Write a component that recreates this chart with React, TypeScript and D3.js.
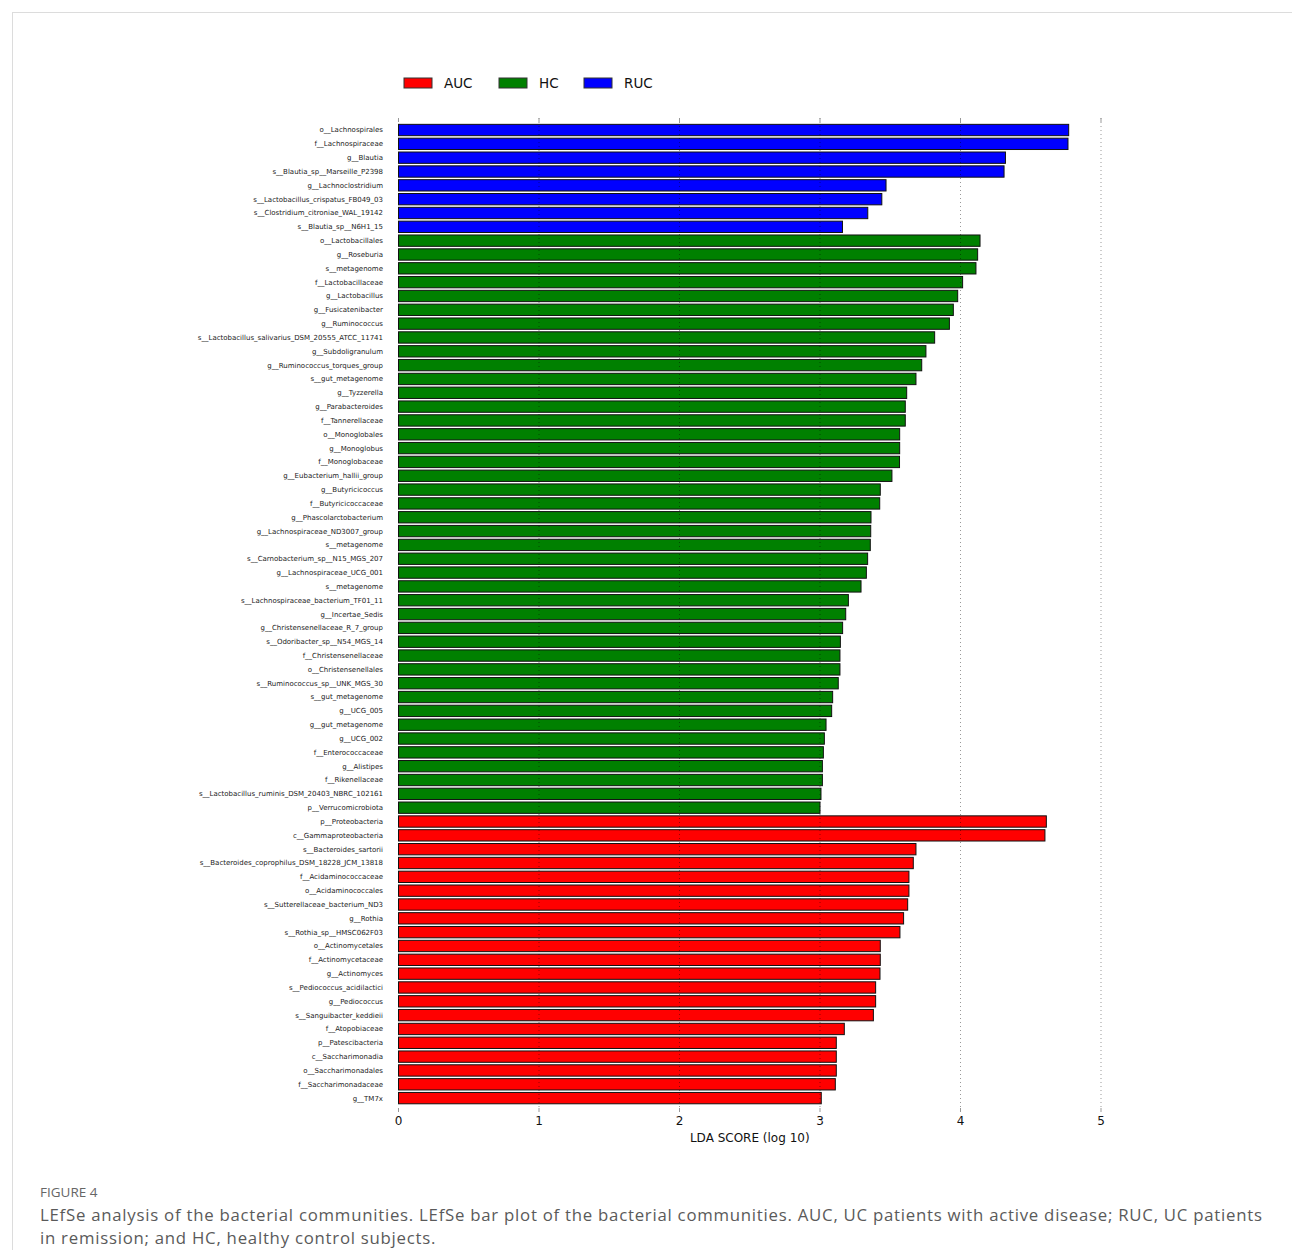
import React, { useEffect, useRef } from "react";
import * as d3 from "d3";

const rucLabels = [
  "o__Lachnospirales",
  "f__Lachnospiraceae",
  "g__Blautia",
  "s__Blautia_sp__Marseille_P2398",
  "g__Lachnoclostridium",
  "s__Lactobacillus_crispatus_FB049_03",
  "s__Clostridium_citroniae_WAL_19142",
  "s__Blautia_sp__N6H1_15",
];
const rucValues = [4.77, 4.765, 4.32, 4.31, 3.47, 3.44, 3.34, 3.16];

const hcLabels = [
  "o__Lactobacillales",
  "g__Roseburia",
  "s__metagenome",
  "f__Lactobacillaceae",
  "g__Lactobacillus",
  "g__Fusicatenibacter",
  "g__Ruminococcus",
  "s__Lactobacillus_salivarius_DSM_20555_ATCC_11741",
  "g__Subdoligranulum",
  "g__Ruminococcus_torques_group",
  "s__gut_metagenome",
  "g__Tyzzerella",
  "g__Parabacteroides",
  "f__Tannerellaceae",
  "o__Monoglobales",
  "g__Monoglobus",
  "f__Monoglobaceae",
  "g__Eubacterium_hallii_group",
  "g__Butyricicoccus",
  "f__Butyricicoccaceae",
  "g__Phascolarctobacterium",
  "g__Lachnospiraceae_ND3007_group",
  "s__metagenome",
  "s__Carnobacterium_sp__N15_MGS_207",
  "g__Lachnospiraceae_UCG_001",
  "s__metagenome",
  "s__Lachnospiraceae_bacterium_TF01_11",
  "g__Incertae_Sedis",
  "g__Christensenellaceae_R_7_group",
  "s__Odoribacter_sp__N54_MGS_14",
  "f__Christensenellaceae",
  "o__Christensenellales",
  "s__Ruminococcus_sp__UNK_MGS_30",
  "s__gut_metagenome",
  "g__UCG_005",
  "g__gut_metagenome",
  "g__UCG_002",
  "f__Enterococcaceae",
  "g__Alistipes",
  "f__Rikenellaceae",
  "s__Lactobacillus_ruminis_DSM_20403_NBRC_102161",
  "p__Verrucomicrobiota",
];
const hcValues = [
  4.139, 4.122, 4.11, 4.015, 3.98, 3.949, 3.921, 3.816, 3.754, 3.724, 3.683,
  3.617, 3.607, 3.607, 3.567, 3.567, 3.566, 3.512, 3.429, 3.425, 3.363, 3.361,
  3.358, 3.339, 3.33, 3.292, 3.202, 3.183, 3.161, 3.145, 3.142, 3.142, 3.13,
  3.09, 3.083, 3.043, 3.031, 3.024, 3.017, 3.017, 3.007, 3.0,
];

const aucLabels = [
  "p__Proteobacteria",
  "c__Gammaproteobacteria",
  "s__Bacteroides_sartorii",
  "s__Bacteroides_coprophilus_DSM_18228_JCM_13818",
  "f__Acidaminococcaceae",
  "o__Acidaminococcales",
  "s__Sutterellaceae_bacterium_ND3",
  "g__Rothia",
  "s__Rothia_sp__HMSC062F03",
  "o__Actinomycetales",
  "f__Actinomycetaceae",
  "g__Actinomyces",
  "s__Pediococcus_acidilactici",
  "g__Pediococcus",
  "s__Sanguibacter_keddieii",
  "f__Atopobiaceae",
  "p__Patescibacteria",
  "c__Saccharimonadia",
  "o__Saccharimonadales",
  "f__Saccharimonadaceae",
  "g__TM7x",
];
const aucValues = [
  4.611, 4.601, 3.683, 3.664, 3.633, 3.633, 3.624, 3.595, 3.569, 3.429, 3.429,
  3.427, 3.396, 3.396, 3.38, 3.173, 3.116, 3.116, 3.116, 3.109, 3.009,
];

const groups = ["AUC", "HC", "RUC"];
const groupColors = ["#ff0000", "#008000", "#0000ff"];
const xTicks = [0, 1, 2, 3, 4, 5];

const captionTitle = "FIGURE 4";
const captionLines = [
  "LEfSe analysis of the bacterial communities. LEfSe bar plot of the bacterial communities. AUC, UC patients with active disease; RUC, UC patients",
  "in remission; and HC, healthy control subjects.",
];

type Row = { label: string; value: number; group: string };

const rows: Row[] = [
  ...rucLabels.map((l, i) => ({ label: l, value: rucValues[i], group: "RUC" })),
  ...hcLabels.map((l, i) => ({ label: l, value: hcValues[i], group: "HC" })),
  ...aucLabels.map((l, i) => ({ label: l, value: aucValues[i], group: "AUC" })),
];

export default function App() {
  const W = 1292;
  const H = 1250;
  const captionRef = useRef<SVGGElement | null>(null);
  const x = d3.scaleLinear().domain([0, 5]).range([398.5, 1101]);
  const color = d3.scaleOrdinal<string, string>().domain(groups).range(groupColors);
  const y = d3
    .scaleBand<number>()
    .domain(rows.map((_, i) => i))
    .range([123.1, 123.1 + rows.length * 13.83])
    .paddingInner(0.18)
    .paddingOuter(0.09);
  const axisTop = 118;
  const axisBottom = 1108;
  const font = "DejaVu Sans, sans-serif";
  const captionX = 40;
  const captionRight = 1262;
  const captionSize = 16.8;

  useEffect(() => {
    const g = captionRef.current;
    if (!g) return;
    const texts = d3.select(g).selectAll<SVGTextElement, unknown>("text");
    const first = texts.nodes()[0];
    if (!first) return;
    texts.attr("letter-spacing", null);
    const w = first.getComputedTextLength();
    const n = captionLines[0].length;
    const ls = (captionRight - captionX - w) / Math.max(1, n - 1);
    if (ls > 0) texts.attr("letter-spacing", ls);
  }, []);

  return (
    <svg
      width={W}
      height={H}
      viewBox={`0 0 ${W} ${H}`}
      style={{ position: "absolute", left: 0, top: 0, background: "#fff" }}
    >
      <rect x={0} y={0} width={W} height={H} fill="#fff" />
      <line x1={12} x2={W} y1={12.5} y2={12.5} stroke="#dcdcdc" />
      <line x1={12.5} x2={12.5} y1={12} y2={H} stroke="#dcdcdc" />

      {/* legend */}
      {groups.map((g, i) => {
        const lx = [404, 499, 584][i];
        return (
          <g key={g}>
            <rect x={lx} y={78} width={28} height={10} fill={color(g)} stroke="#333" strokeWidth={1} />
            <text x={lx + 40} y={88} fontFamily={font} fontSize={13.5} fill="#111">
              {g}
            </text>
          </g>
        );
      })}

      {/* bars */}
      {rows.map((r, i) => (
        <g key={i}>
          <rect
            x={x(0)}
            y={y(i)!}
            width={x(r.value) - x(0)}
            height={y.bandwidth()}
            fill={color(r.group)}
            stroke="#111"
            strokeWidth={1}
          />
          <text
            x={383}
            y={y(i)! + y.bandwidth() / 2}
            dy="0.35em"
            textAnchor="end"
            fontFamily={font}
            fontSize={7}
            fill="#222"
          >
            {r.label}
          </text>
        </g>
      ))}

      {/* grid lines on top */}
      {xTicks
        .filter((t) => t > 0)
        .map((t) => (
          <line
            key={"g" + t}
            x1={x(t)}
            x2={x(t)}
            y1={axisTop}
            y2={axisBottom}
            stroke="rgba(0,0,0,0.4)"
            strokeWidth={1}
            strokeDasharray="1,3"
          />
        ))}

      {/* ticks */}
      {xTicks.map((t) => (
        <g key={"t" + t}>
          <line x1={x(t)} x2={x(t)} y1={axisTop} y2={axisTop + 4} stroke="#999" />
          <line x1={x(t)} x2={x(t)} y1={axisBottom} y2={axisBottom + 4} stroke="#999" />
          <text
            x={x(t)}
            y={1124.5}
            textAnchor="middle"
            fontFamily={font}
            fontSize={12}
            fill="#111"
          >
            {t}
          </text>
        </g>
      ))}
      <text
        x={(x(0) + x(5)) / 2}
        y={1141.5}
        textAnchor="middle"
        fontFamily={font}
        fontSize={12}
        fill="#111"
      >
        LDA SCORE (log 10)
      </text>

      {/* caption */}
      <text x={captionX} y={1197} fontFamily="Open Sans, sans-serif" fontSize={13.5} fill="#666">
        {captionTitle}
      </text>
      <g ref={captionRef}>
        {captionLines.map((l, i) => (
          <text
            key={i}
            x={captionX}
            y={1221 + i * 23}
            fontFamily="Open Sans, sans-serif"
            fontSize={captionSize}
            fill="#5a5a5a"
          >
            {l}
          </text>
        ))}
      </g>
    </svg>
  );
}
